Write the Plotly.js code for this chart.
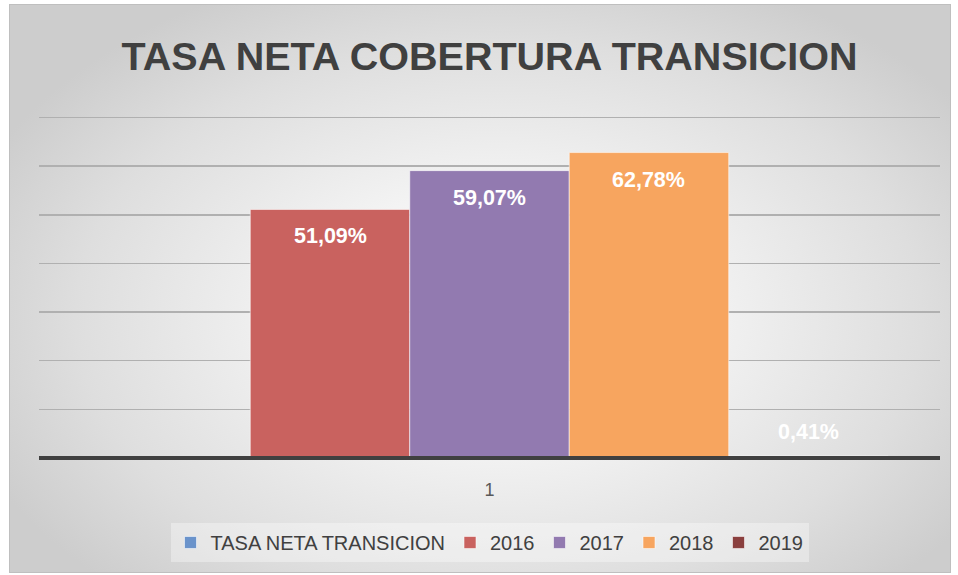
<!DOCTYPE html>
<html>
<head>
<meta charset="utf-8">
<script src="https://cdn.plot.ly/plotly-3.0.1.min.js"></script>
<style>
  html, body { margin: 0; padding: 0; background: #ffffff; width: 958px; height: 575px; overflow: hidden; }
  #frame { position: absolute; left: 9px; top: 4px; width: 940px; height: 567px;
           border: 1px solid #bfbfbf;
           background: radial-gradient(ellipse 60% 65% at 52% 55%, #ffffff 0%, #f3f3f3 35%, #dedede 75%, #cdcdcd 100%); }
  #chart { position: absolute; left: 0; top: 0; width: 958px; height: 575px; }
</style>
</head>
<body>
<div id="frame"></div>
<div id="chart"></div>
<script>
const categories = ["1"];
const seriesNames = ["TASA NETA TRANSICION", "2016", "2017", "2018", "2019"];
const seriesValues = [null, 51.09, 59.07, 62.78, 0.41];
const seriesColors = ["#6a93cb", "#c9625f", "#927ab0", "#f7a55f", "#8a3f3e"];
const yTicks = [0, 10, 20, 30, 40, 50, 60, 70];

const bargap = 0.115;
const n = seriesNames.length;

const traces = seriesNames.map((name, i) => ({
  type: "bar",
  name: name,
  x: categories,
  y: [seriesValues[i]],
  marker: { color: seriesColors[i], line: { color: "rgba(255,255,255,0.55)", width: 1 } },
  hoverinfo: "skip"
}));

const w = (1 - bargap) / n;
const annotations = [];
seriesValues.forEach((v, i) => {
  if (v === null) return;
  const small = v < 5;
  annotations.push({
    xref: "x", yref: "y",
    x: (i - (n - 1) / 2) * w,
    y: v,
    yshift: small ? 24 : -27,
    text: v.toFixed(2).replace(".", ",") + "%",
    showarrow: false,
    font: { family: "Liberation Sans, Arial, sans-serif", size: 21.5, color: "#ffffff", weight: "bold" },
    xanchor: "center", yanchor: "middle"
  });
});

const layout = {
  width: 958, height: 575,
  paper_bgcolor: "rgba(0,0,0,0)",
  plot_bgcolor: "rgba(0,0,0,0)",
  margin: { l: 39, r: 18, t: 116, b: 117 },
  title: {
    text: "<b>TASA NETA COBERTURA TRANSICION</b>",
    font: { family: "Liberation Sans, Arial, sans-serif", size: 39.5, color: "#404040" },
    x: 0.511, xanchor: "center", xref: "container",
    y: 0.903, yanchor: "middle", yref: "container"
  },
  barmode: "group",
  bargap: bargap,
  bargroupgap: 0,
  xaxis: {
    type: "category",
    showgrid: false,
    showline: false,
    ticks: "", ticklabelstandoff: 19,
    tickfont: { family: "Liberation Sans, Arial, sans-serif", size: 18, color: "#595959" },
    fixedrange: true
  },
  yaxis: {
    range: [0, 70.3],
    tickvals: yTicks,
    showticklabels: false,
    showgrid: true, gridcolor: "#b0b0b0", gridwidth: 1.5,
    zeroline: false,
    showline: false,
    fixedrange: true
  },
  shapes: [{
    type: "line", layer: "above",
    xref: "paper", x0: 0, x1: 1,
    yref: "paper", y0: 0, y1: 0,
    line: { color: "#404040", width: 4 }
  }],
  showlegend: true,
  legend: {
    orientation: "h",
    x: 0.5, xanchor: "center",
    y: -0.19, yanchor: "top",
    bgcolor: "rgba(255,255,255,0.35)",
    font: { family: "Liberation Sans, Arial, sans-serif", size: 20, color: "#404040" },
    itemwidth: 30,
    traceorder: "normal"
  },
  annotations: annotations
};

Plotly.newPlot("chart", traces, layout, { staticPlot: true, displayModeBar: false });
</script>
</body>
</html>
